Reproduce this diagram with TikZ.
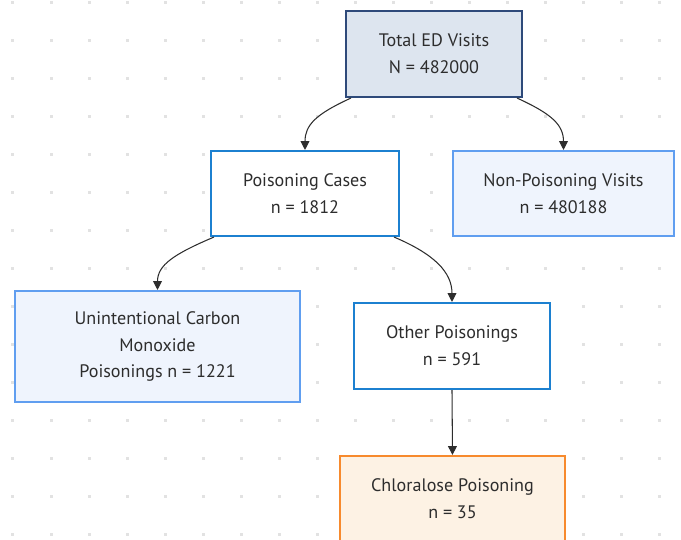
\documentclass[tikz,border=0pt]{standalone}
\usepackage{fontspec}
\setmainfont{PT Sans}
\usepackage{tikz}
\usetikzlibrary{calc,arrows.meta,positioning}
\definecolor{txt}{RGB}{45,45,45}
\definecolor{navy}{RGB}{46,74,122}
\definecolor{slate}{RGB}{221,229,239}
\definecolor{midblue}{RGB}{28,128,208}
\definecolor{lightblue}{RGB}{96,158,240}
\definecolor{paleblue}{RGB}{239,244,253}
\definecolor{orange}{RGB}{247,138,45}
\definecolor{paleorange}{RGB}{253,242,228}
\definecolor{griddot}{RGB}{226,226,226}

\begin{document}
\begin{tikzpicture}[x=0.02cm,y=-0.02cm,
  every node/.style={draw,rectangle,align=center,text=txt,line width=1.2pt,
    font=\fontsize{10.3}{15.3}\selectfont,inner sep=0pt},
  totalbox/.style={draw=navy,fill=slate,minimum width=3.52cm,minimum height=1.72cm},
  casebox/.style={draw=midblue,fill=white},
  sidebox/.style={draw=lightblue,fill=paleblue},
  endbox/.style={draw=orange,fill=paleorange},
  flow/.style={draw=txt,line width=0.6pt,-{Triangle[length=5pt,width=5pt]}}]
\useasboundingbox (0,0) rectangle (681,539);

\foreach \x in {13,51,...,681}
  \foreach \y in {2,40,...,539}
    \fill[griddot] (\x-1.5,\y-1.5) rectangle (\x+1.5,\y+1.5);

\node (total) at (434,54) [totalbox] {Total ED Visits\\N = 482000};
\node (pois) at (305,193.5) [casebox,minimum width=3.76cm,minimum height=1.70cm] {Poisoning Cases\\n = 1812};
\node (nonpois) at (563.5,193.5) [sidebox,minimum width=4.42cm,minimum height=1.70cm] {Non-Poisoning Visits\\n = 480188};
\node (carbon) at (157.5,346.5) [sidebox,minimum width=5.70cm,minimum height=2.22cm] {Unintentional Carbon\\Monoxide\\Poisonings n = 1221};
\node (other) at (452,346) [casebox,minimum width=3.92cm,minimum height=1.72cm] {Other Poisonings\\n = 591};
\node (chlor) at (452.5,499) [endbox,minimum width=4.50cm,minimum height=1.72cm] {Chloralose Poisoning\\n = 35};

\draw[flow] ([xshift=0.12cm]total.south west) .. controls +(-35,16) and +(0,-25) .. (pois.north);
\draw[flow] ([xshift=-0.12cm]total.south east) .. controls +(35,16) and +(0,-25) .. (nonpois.north);
\draw[flow] ([xshift=0.08cm]pois.south west) .. controls +(-40,17) and +(0,-25) .. (carbon.north);
\draw[flow] ([xshift=-0.12cm]pois.south east) .. controls +(40,17) and +(0,-30) .. (other.north);
\draw[flow] (other.south) -- (chlor.north);
\end{tikzpicture}
\end{document}
